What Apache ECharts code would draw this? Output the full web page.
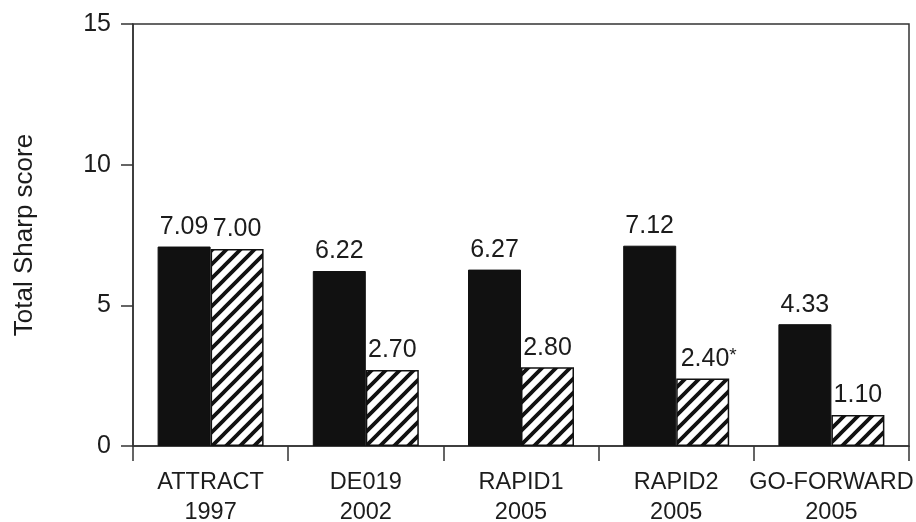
<!DOCTYPE html>
<html>
<head>
<meta charset="utf-8">
<script src="https://cdn.jsdelivr.net/npm/echarts@6/dist/echarts.min.js"></script>
<style>
  html, body { margin: 0; padding: 0; background: #fff; }
  #chart { width: 916px; height: 522px; }
</style>
</head>
<body>
<div id="chart"></div>
<script>
// ---- data ----
const trialNames = ['ATTRACT', 'DE019', 'RAPID1', 'RAPID2', 'GO-FORWARD'];
const trialYears = ['1997', '2002', '2005', '2005', '2005'];
const controlScores = [7.09, 6.22, 6.27, 7.12, 4.33];   // solid black bars
const treatedScores = [7.00, 2.70, 2.80, 2.40, 1.10];   // hatched bars
const treatedNotes  = ['', '', '', '*', ''];
const yTicks = [0, 5, 10, 15];
const yAxisTitle = 'Total Sharp score';

// ---- hatch pattern ----
function makeHatch() {
  const s = 14;
  const c = document.createElement('canvas');
  c.width = s; c.height = s;
  const g = c.getContext('2d');
  g.fillStyle = '#ffffff';
  g.fillRect(0, 0, s, s);
  g.strokeStyle = '#111111';
  g.lineWidth = 3.8;
  g.lineCap = 'square';
  g.beginPath();
  g.moveTo(-2, s + 2); g.lineTo(s + 2, -2);
  g.moveTo(-2 - s, s + 2); g.lineTo(2, -2);
  g.moveTo(s - 2, s + 2); g.lineTo(2 * s + 2, -2);
  g.stroke();
  return c;
}

const FONT = 'Liberation Sans, Arial, Helvetica, sans-serif';
const TXT = '#1c1c1c';

const categories = trialNames.map((n, i) => n + '\n' + trialYears[i]);

const chart = echarts.init(document.getElementById('chart'), null, { renderer: 'canvas' });
chart.setOption({
  animation: false,
  backgroundColor: '#fff',
  textStyle: { fontFamily: FONT, color: TXT },
  grid: {
    left: 133, right: 7, top: 24, bottom: 76,
    containLabel: false,
    outerBoundsMode: 'none',
    show: true, borderColor: '#333', borderWidth: 1.5, backgroundColor: 'transparent'
  },
  xAxis: {
    type: 'category',
    data: categories,
    axisLine: { lineStyle: { color: '#333', width: 1.5 } },
    axisTick: { show: true, length: 15, alignWithLabel: false, interval: 0, lineStyle: { color: '#333', width: 1.5 } },
    axisLabel: { interval: 0, margin: 22, fontSize: 23.5, lineHeight: 30, color: TXT, fontFamily: FONT },
    splitLine: { show: false }
  },
  yAxis: {
    type: 'value',
    min: yTicks[0], max: yTicks[yTicks.length - 1], interval: yTicks[1] - yTicks[0],
    name: yAxisTitle,
    nameLocation: 'middle',
    nameGap: 95,
    nameRotate: 90,
    nameTextStyle: { fontSize: 26, color: TXT, fontFamily: FONT },
    axisLine: { show: true, lineStyle: { color: '#333', width: 1.5 } },
    axisTick: { show: true, length: 12, lineStyle: { color: '#333', width: 1.5 } },
    axisLabel: { margin: 22, fontSize: 25, color: TXT, fontFamily: FONT },
    splitLine: { show: false }
  },
  series: [
    {
      type: 'bar',
      data: controlScores,
      barWidth: 53,
      barGap: '0%',
      itemStyle: { color: '#111', borderColor: '#111', borderWidth: 1 },
      label: {
        show: true, position: 'top', distance: 7,
        fontSize: 25, color: TXT, fontFamily: FONT,
        formatter: p => p.value.toFixed(2)
      }
    },
    {
      type: 'bar',
      data: treatedScores.map((v, i) => ({
        value: v,
        label: treatedNotes[i] ? { offset: [6, 0] } : undefined
      })),
      barWidth: 53,
      barGap: '0%',
      itemStyle: {
        color: { image: makeHatch(), repeat: 'repeat' },
        borderColor: '#111', borderWidth: 1.5
      },
      label: {
        show: true, position: 'top', distance: 7,
        fontSize: 25, color: TXT, fontFamily: FONT,
        formatter: p => p.value.toFixed(2) + (treatedNotes[p.dataIndex] ? '{sup|' + treatedNotes[p.dataIndex] + '}' : ''),
        rich: { sup: { fontSize: 19, color: TXT, fontFamily: FONT, padding: [0, 0, 6, 0] } }
      }
    }
  ]
});
</script>
</body>
</html>
